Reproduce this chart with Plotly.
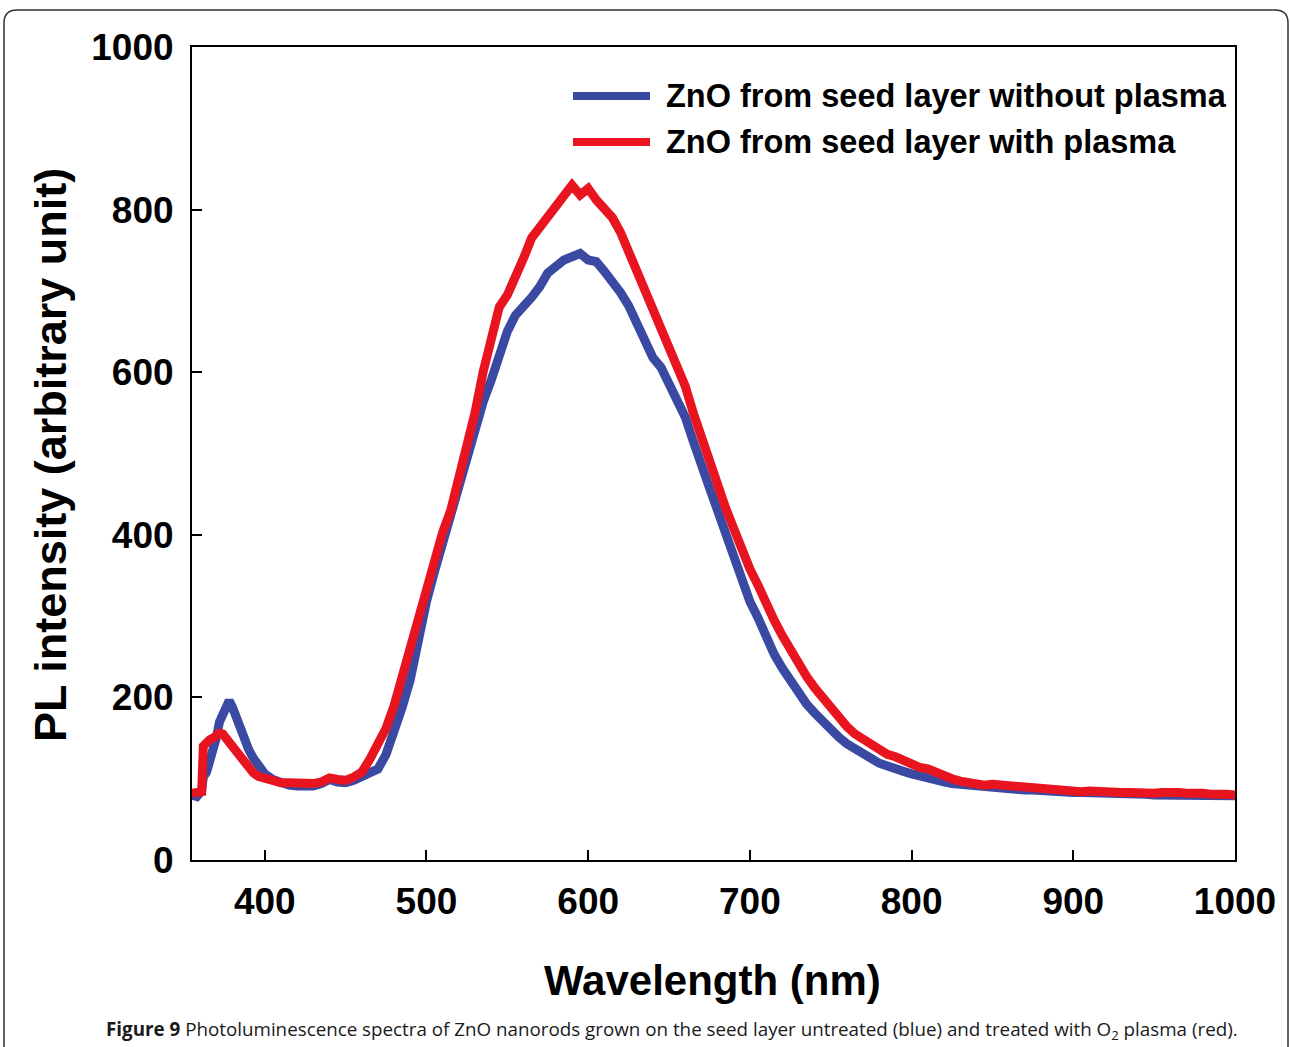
import plotly.graph_objects as go

# ---------------- data ----------------
wavelength = [355, 358, 361, 362, 364, 366, 368, 370, 372, 374, 376, 378, 380, 382, 384, 386, 388, 390,
              393, 396, 400, 405, 410, 415, 420, 425, 430, 435, 440, 445, 450, 455, 460, 465, 470, 475,
              480, 485, 490, 495, 500, 505, 510, 515, 520, 525, 530, 535, 540, 545, 550, 555, 560, 565,
              570, 575, 580, 585, 590, 595, 600, 605, 610, 615, 620, 625, 630, 635, 640, 645, 650, 655,
              660, 665, 670, 675, 680, 685, 690, 695, 700, 705, 710, 715, 720, 725, 730, 735, 740, 745,
              750, 755, 760, 765, 770, 775, 780, 785, 790, 795, 800, 805, 810, 815, 820, 825, 830, 835,
              840, 845, 850, 855, 860, 865, 870, 875, 880, 885, 890, 895, 900, 905, 910, 915, 920, 925,
              930, 935, 940, 945, 950, 955, 960, 965, 970, 975, 980, 985, 990, 995, 1000]

without_plasma = [80, 78, 85, 102, 108, 120, 132, 150, 170, 180, 190, 196, 188, 176, 165, 155, 146, 136,
                  125, 115, 106, 99, 95, 92, 91, 90, 91, 94, 99, 96, 95, 98, 103, 108, 112, 130,
                  157, 188, 222, 275, 318, 355, 390, 420, 455, 490, 525, 563, 590, 625, 650, 670, 680, 692,
                  705, 722, 730, 738, 742, 746, 738, 736, 724, 712, 698, 682, 660, 640, 618, 606, 585, 568,
                  545, 515, 490, 458, 430, 400, 372, 345, 318, 298, 273, 253, 236, 220, 206, 192, 181, 170,
                  160, 151, 143, 136, 130, 125, 119, 115, 112, 109, 106, 103, 101, 98, 96, 94, 93, 91,
                  90, 89, 88, 88, 87, 87, 86, 86, 85, 85, 84, 84, 83, 83, 83, 82, 82, 82,
                  81, 81, 81, 81, 80, 80, 80, 80, 80, 80, 80, 80, 80, 79, 79]

with_plasma = [82, 83, 84, 140, 146, 148, 150, 153, 156, 155, 150, 144, 138, 131, 126, 121, 116, 112,
               107, 103, 100, 97, 95, 95, 94, 94, 94, 96, 101, 99, 98, 102, 108, 124, 141, 162,
               190, 225, 264, 305, 340, 372, 403, 430, 470, 505, 550, 600, 645, 680, 695, 715, 740, 765,
               778, 792, 806, 820, 830, 818, 826, 812, 802, 790, 772, 748, 728, 702, 680, 655, 632, 606,
               583, 550, 520, 488, 462, 433, 408, 382, 358, 338, 315, 295, 276, 258, 242, 226, 212, 199,
               186, 175, 164, 155, 148, 141, 134, 130, 127, 122, 118, 114, 112, 107, 103, 100, 97, 95,
               93, 92, 93, 92, 91, 90, 91, 88, 88, 87, 86, 86, 85, 84, 85, 84, 83, 84,
               83, 83, 82, 83, 82, 83, 84, 83, 82, 83, 82, 81, 82, 81, 80]

series_names = ["ZnO from seed layer without plasma", "ZnO from seed layer with plasma"]
series_colors = ["#3a4aa2", "#e8141f"]

x_ticks = [400, 500, 600, 700, 800, 900, 1000]
y_ticks = [0, 200, 400, 600, 800, 1000]

x_title = "Wavelength (nm)"
y_title = "PL intensity (arbitrary unit)"
caption = ("<b>Figure 9</b> Photoluminescence spectra of ZnO nanorods grown on the seed layer "
           "untreated (blue) and treated with O<sub>2</sub> plasma (red).")

# ---------------- layout geometry ----------------
W, H = 1290, 1047
L, R, T, B = 192, 55, 47, 187
PW, PH = W - L - R, H - T - B


def px(x):
    return (x - L) / PW


def py(y):
    return (H - B - y) / PH


BOLDF = "Liberation Sans, Arial, sans-serif"

fig = go.Figure()
for name, ys, col in [(series_names[0], without_plasma, series_colors[0]),
                      (series_names[1], with_plasma, series_colors[1])]:
    fig.add_trace(go.Scatter(x=wavelength, y=ys, mode="lines", name=name,
                             line=dict(color=col, width=9), showlegend=False))

axis_common = dict(showline=True, linecolor="black", linewidth=2, mirror=True,
                   ticks="inside", ticklen=10, tickwidth=2, tickcolor="black",
                   showgrid=False, zeroline=False,
                   tickfont=dict(family=BOLDF, size=37, color="black", weight="bold"))

fig.update_xaxes(range=[355, 1000], tickvals=x_ticks, ticklabelstandoff=8, **axis_common)
fig.update_yaxes(range=[0, 1000], tickvals=y_ticks, ticklabelstandoff=9, **axis_common)

# manual legend (long line samples like the reference)
leg_y = [96, 142]
shapes = []
annotations = []
for i in range(2):
    shapes.append(dict(type="line", xref="paper", yref="paper",
                       x0=px(573), x1=px(650), y0=py(leg_y[i]), y1=py(leg_y[i]),
                       line=dict(color=series_colors[i], width=8)))
    annotations.append(dict(xref="paper", yref="paper", x=px(664), y=py(leg_y[i]),
                            xanchor="left", yanchor="middle", showarrow=False,
                            text=series_names[i],
                            font=dict(family=BOLDF, size=32.5, color="black", weight="bold")))

# axis titles
annotations.append(dict(xref="paper", yref="paper", x=px(50), y=py(455), textangle=-90,
                        xanchor="center", yanchor="middle", showarrow=False, text=y_title,
                        font=dict(family=BOLDF, size=45, color="black", weight="bold")))
annotations.append(dict(xref="paper", yref="paper", x=px(712), y=py(980),
                        xanchor="center", yanchor="middle", showarrow=False, text=x_title,
                        font=dict(family=BOLDF, size=42, color="black", weight="bold")))
# caption
annotations.append(dict(xref="paper", yref="paper", x=px(672), y=py(1030),
                        xanchor="center", yanchor="middle", showarrow=False, text=caption,
                        font=dict(family="Open Sans, Noto Sans, sans-serif", size=18.8, color="#1a1a1a")))

# rounded outer frame
x0, x1 = px(4), px(1288)
yt, yb = py(10), py(1070)
rx, ry = 13 / PW, 13 / PH
frame_path = (f"M {x0},{yb} L {x0},{yt - ry} Q {x0},{yt} {x0 + rx},{yt} "
              f"L {x1 - rx},{yt} Q {x1},{yt} {x1},{yt - ry} L {x1},{yb}")
shapes.append(dict(type="path", xref="paper", yref="paper", path=frame_path,
                   line=dict(color="#333333", width=1.5)))

fig.update_layout(width=W, height=H, margin=dict(l=L, r=R, t=T, b=B, autoexpand=False),
                  paper_bgcolor="white", plot_bgcolor="white",
                  shapes=shapes, annotations=annotations, showlegend=False)

fig.write_html("out.html", config={"displayModeBar": False},
               post_script="document.body.style.margin='0px';document.body.style.overflow='hidden';")
